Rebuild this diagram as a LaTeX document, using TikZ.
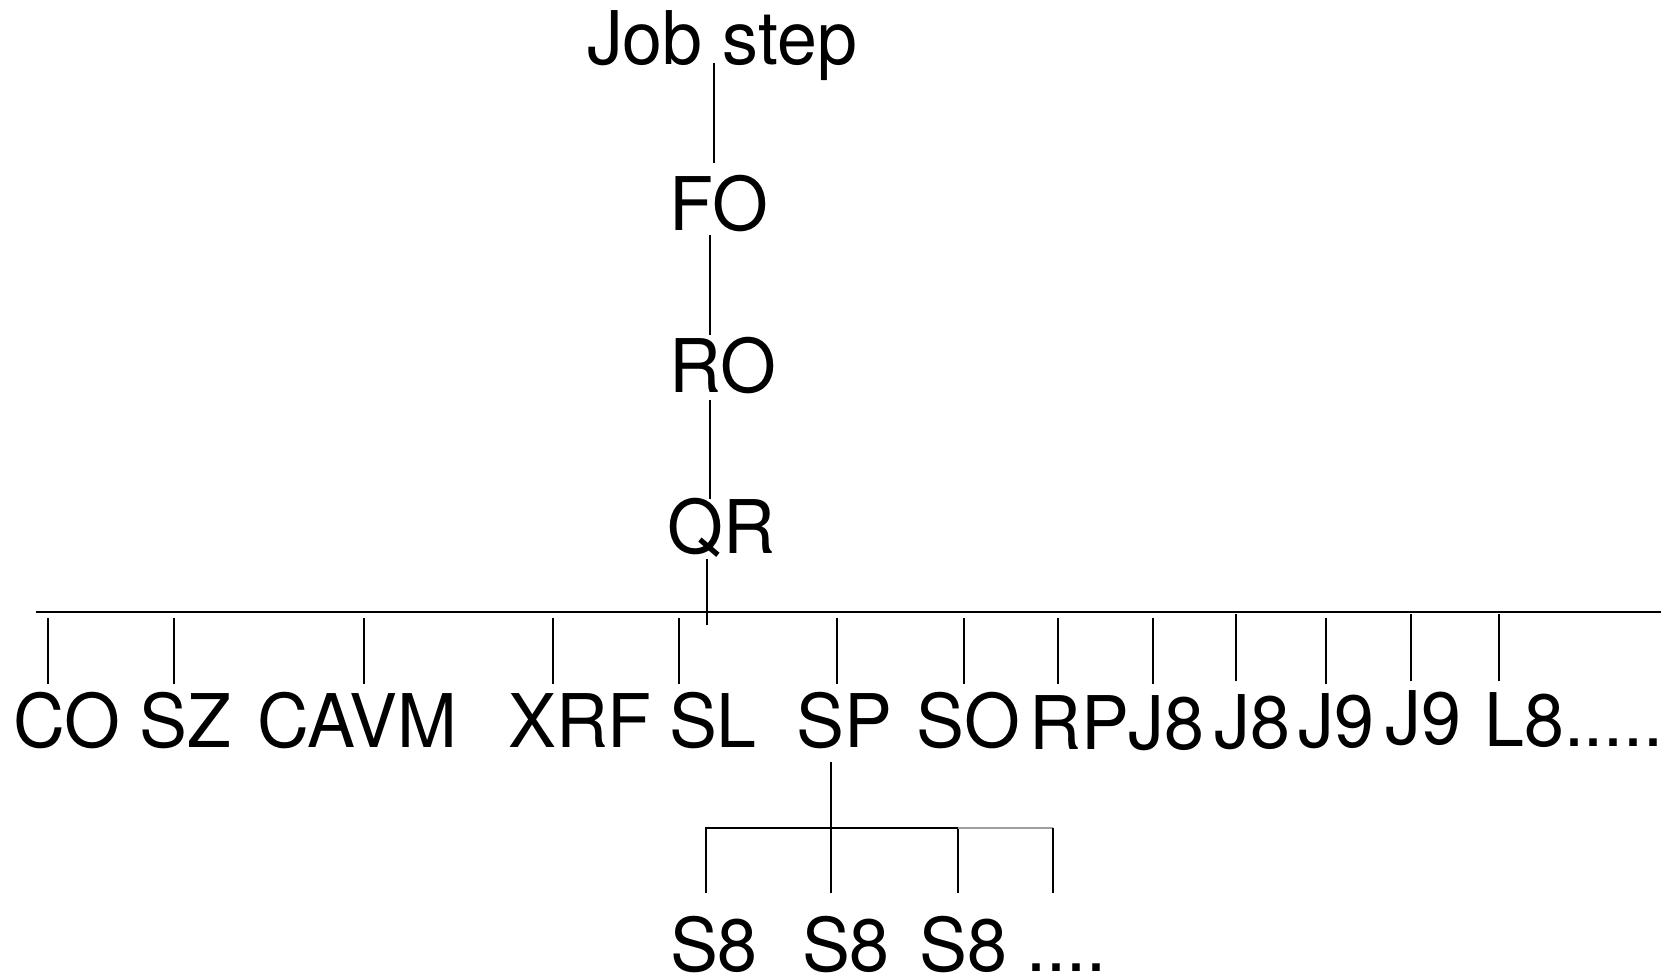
\documentclass[tikz,border=0pt]{standalone}
\usepackage{fontspec}
\setmainfont[FakeStretch=0.97]{TeX Gyre Heros}
\begin{document}
\begin{tikzpicture}[x=1pt,y=-1pt,
  lbl/.style={inner sep=0pt, anchor=base, font=\fontsize{74}{80}\selectfont},
  lblw/.style={lbl, anchor=base west},
  link/.style={line width=1.3pt},
  tick/.style={line width=1.2pt},
  bus/.style={line width=1.8pt},
  bracket/.style={line width=1.8pt}]
\useasboundingbox (0,0) rectangle (1679,979);
% vertical chain
\node[lbl] (js) at (722,65) {Job step};
\node[lbl] (fo) at (719,230) {FO};
\node[lbl] (ro) at (723,392) {RO};
\node[lbl] (qr) at (721,553) {QR};
\draw[link] ([xshift=-8pt,yshift=2pt]js.base) -- ([xshift=-5pt,yshift=12pt]fo.north);
\draw[link] ([xshift=-9pt,yshift=-5pt]fo.base) -- ([xshift=-13pt,yshift=2pt]ro.north);
\draw[link] ([xshift=-13pt,yshift=-8pt]ro.base) -- ([xshift=-11pt,yshift=-1pt]qr.north);
% bus
\coordinate (busL) at (36,612);
\coordinate (busR) at (1661,612);
\draw[bus] (busL) -- (busR);
\draw[link] ([xshift=-14pt,yshift=-6pt]qr.base) -- ++(0,66);
% row of labels
\node[lbl] (co) at (67,747) {CO};
\node[lbl] (sz) at (185,747) {SZ};
\node[lbl] (cavm) at (357.5,747) {CAVM};
\node[lbl] (xrf) at (580,747) {XRF};
\node[lbl] (sl) at (713,747) {SL};
\node[lbl] (sp) at (844,747) {SP};
\node[lbl] (so) at (968,747) {SO};
\node[lblw] (rp) at (1029,749) {RP};
\node[lblw] (jea) at (1128.5,749) {J8};
\node[lbl] (jeb) at (1252.5,748) {J8};
\node[lbl] (jna) at (1336,747) {J9};
\node[lbl] (jnb) at (1423.5,744) {J9};
\node[lblw] (le) at (1484,746) {L8.....};
% ticks
\draw[tick] ([xshift=-19pt,yshift=63pt]co.base) -- ++(0,-66);
\draw[tick] ([xshift=-11pt,yshift=63pt]sz.base) -- ++(0,-66);
\draw[tick] ([xshift=6.5pt,yshift=63pt]cavm.base) -- ++(0,-66);
\draw[tick] ([xshift=-27pt,yshift=63pt]xrf.base) -- ++(0,-66);
\draw[tick] ([xshift=-34pt,yshift=63pt]sl.base) -- ++(0,-66);
\draw[tick] ([xshift=-7pt,yshift=63pt]sp.base) -- ++(0,-66);
\draw[tick] ([xshift=-4pt,yshift=63pt]so.base) -- ++(0,-66);
\draw[tick] ([xshift=29pt,yshift=65pt]rp.base west) -- ++(0,-66);
\draw[tick] ([xshift=24.5pt,yshift=65pt]jea.base west) -- ++(0,-66);
\draw[tick] ([xshift=-16.5pt,yshift=67pt]jeb.base) -- ++(0,-67);
\draw[tick] ([xshift=-10pt,yshift=63pt]jna.base) -- ++(0,-66);
\draw[tick] ([xshift=-12.5pt,yshift=63pt]jnb.base) -- ++(0,-67);
\draw[tick] ([xshift=15pt,yshift=65pt]le.base west) -- ++(0,-67);
% sub tree
\node[lbl] (sa) at (714,971) {S8};
\node[lbl] (sb) at (846,971) {S8};
\node[lbl] (sc) at (963.5,971) {S8};
\node[lblw] (sd) at (1026,971) {....};
\coordinate (bar) at (0,828);
\draw[bracket] ([xshift=-13pt,yshift=-15pt]sp.base) -- ++(0,131);
\draw[bracket] ([xshift=-8pt,yshift=23pt]sa.north) -- ([xshift=-8pt]sa.north |- bar) -- ([xshift=-5.5pt]sc.north |- bar) -- ([xshift=-5.5pt,yshift=23pt]sc.north);
\draw[bracket, gray!75] ([xshift=-5.5pt]sc.north |- bar) -- ([xshift=27pt]sd.base west |- bar);
\draw[bracket] ([xshift=27pt]sd.base west |- bar) -- ([xshift=27pt,yshift=78pt]sd.base west);
\end{tikzpicture}
\end{document}
